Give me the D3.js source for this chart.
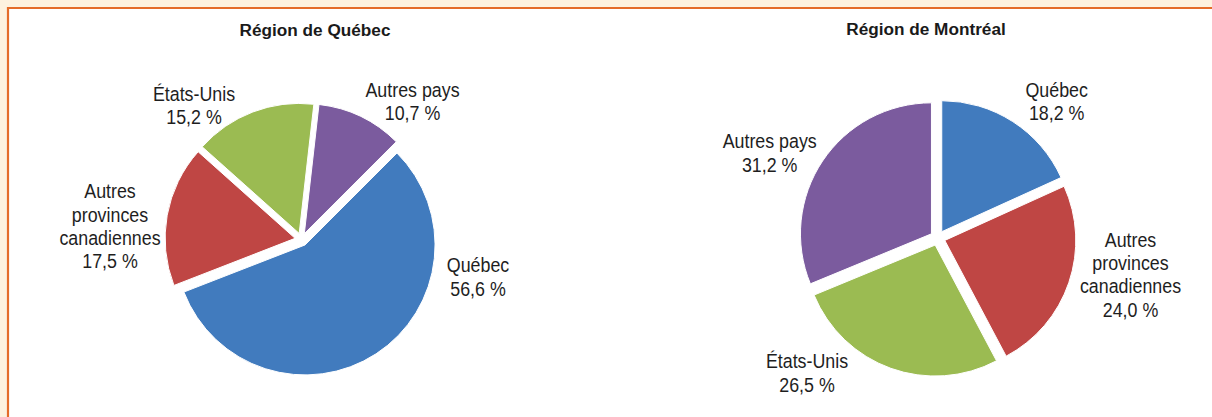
<!DOCTYPE html>
<html>
<head>
<meta charset="utf-8">
<script src="https://cdn.jsdelivr.net/npm/d3@7"></script>
<style>
  html, body { margin: 0; padding: 0; background: #fff; }
  svg { display: block; }
</style>
</head>
<body>
<script>
// ---- Data ----
const categories = ["Québec", "Autres provinces canadiennes", "États-Unis", "Autres pays"];
const labelLines = [["Québec"], ["Autres", "provinces", "canadiennes"], ["États-Unis"], ["Autres pays"]];
const quebecValues = [56.6, 17.5, 15.2, 10.7];
const montrealValues = [18.2, 24.0, 26.5, 31.2];
const chartTitles = ["Région de Québec", "Région de Montréal"];

// ---- Style / layout ----
const W = 1212, H = 417;
const colors = ["#417BBE", "#BF4644", "#9BBB52", "#7B5B9E"];
const fmt = v => d3.format(".1f")(v).replace(".", ",") + " %";

const charts = [
  { title: chartTitles[0], values: quebecValues, cx: 301.5, cy: 239.5, r: 130, explode: 6.5,
    startDeg: 45, titleX: 315, titleY: 36,
    labels: [[478, 272.3], [110, 198.3], [194, 100.7], [412.5, 96.7]] },
  { title: chartTitles[1], values: montrealValues, cx: 937.7, cy: 238, r: 131, explode: 7.5,
    startDeg: 0, titleX: 926, titleY: 35,
    labels: [[1056.7, 96.7], [1130.5, 246.7], [807, 368.3], [769.7, 148.3]] }
];

const svg = d3.select("body").append("svg").attr("width", W).attr("height", H);

// Background frame
svg.append("rect").attr("x", 0).attr("y", 0).attr("width", W).attr("height", H).attr("fill", "#FDF2DF");
svg.append("rect").attr("x", 7).attr("y", 7).attr("width", W - 7).attr("height", H - 7).attr("fill", "#fff");
svg.append("line").attr("x1", 8).attr("y1", 8).attr("x2", W).attr("y2", 8)
  .attr("stroke", "#E46C29").attr("stroke-width", 2.2);
svg.append("line").attr("x1", 8).attr("y1", 7).attr("x2", 8).attr("y2", H)
  .attr("stroke", "#E46C29").attr("stroke-width", 2.2);

charts.forEach(ch => {
  const pie = d3.pie().sort(null).value(d => d)
    .startAngle(ch.startDeg * Math.PI / 180)
    .endAngle(ch.startDeg * Math.PI / 180 + 2 * Math.PI);
  const arcs = pie(ch.values);
  const arc = d3.arc().innerRadius(0).outerRadius(ch.r);
  const g = svg.append("g").attr("transform", `translate(${ch.cx},${ch.cy})`);
  g.selectAll("path").data(arcs).join("path")
    .attr("d", arc)
    .attr("transform", d => {
      const a = (d.startAngle + d.endAngle) / 2;
      return `translate(${ch.explode * Math.sin(a)},${-ch.explode * Math.cos(a)})`;
    })
    .attr("fill", (d, i) => colors[i])
    .attr("stroke", "#fff").attr("stroke-width", 1);

  svg.append("text").attr("x", ch.titleX).attr("y", ch.titleY)
    .attr("text-anchor", "middle")
    .attr("font-family", "'Liberation Sans', Arial, sans-serif")
    .attr("font-weight", "bold").attr("font-size", 17.2).attr("fill", "#1a1a1a")
    .text(ch.title);

  arcs.forEach((d, i) => {
    const [lx, ly] = ch.labels[i];
    const lines = labelLines[i].concat([fmt(d.data)]);
    const t = svg.append("g").attr("transform", `translate(${lx},${ly})`)
      .append("text").attr("transform", "scale(0.87,1)")
      .attr("text-anchor", "middle")
      .attr("font-family", "'Liberation Sans', Arial, sans-serif")
      .attr("font-size", 20.5).attr("fill", "#1e1e1e");
    lines.forEach((ln, k) => {
      t.append("tspan").attr("x", 0).attr("y", k * 23.4).text(ln);
    });
  });
});
</script>
</body>
</html>
